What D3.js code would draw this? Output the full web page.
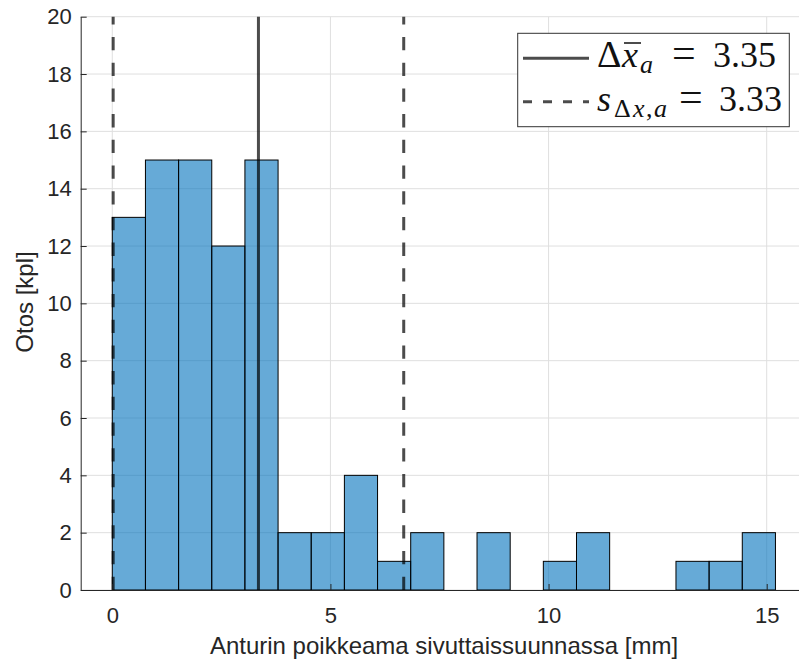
<!DOCTYPE html>
<html>
<head>
<meta charset="utf-8">
<script src="https://cdn.jsdelivr.net/npm/d3@7"></script>
<style>
  html, body { margin: 0; padding: 0; background: #fff; }
  svg { display: block; }
</style>
</head>
<body>
<svg id="chart" width="799" height="664"></svg>
<script>
// Histogram of lateral sensor offset samples
const binEdges = [0, 0.76, 1.52, 2.28, 3.04, 3.80, 4.56, 5.32, 6.08, 6.84, 7.60,
                  8.36, 9.12, 9.88, 10.64, 11.40, 12.16, 12.92, 13.68, 14.44, 15.20];
const counts = [13, 15, 15, 12, 15, 2, 2, 4, 1, 2, 0, 2, 0, 1, 2, 0, 0, 1, 1, 2];
const meanValue = 3.35;
const stdValue = 3.33;
const xTicks = [0, 5, 10, 15];
const yTicks = [0, 2, 4, 6, 8, 10, 12, 14, 16, 18, 20];
const xLabel = "Anturin poikkeama sivuttaissuunnassa [mm]";
const yLabel = "Otos [kpl]";

const svg = d3.select("#chart");
const sansFont = "'Liberation Sans', Arial, Helvetica, sans-serif";
const serifFont = "'Liberation Serif', 'Times New Roman', serif";
const axisColor = "#262626";

const x = d3.scaleLinear().domain([-0.724, 15.96]).range([80.7, 808.6]);
const y = d3.scaleLinear().domain([0, 20]).range([590, 16.7]);

// grid
const grid = svg.append("g").attr("stroke", "#dfdfdf").attr("stroke-width", 1);
grid.selectAll("line.v").data(xTicks).join("line")
  .attr("x1", d => x(d)).attr("x2", d => x(d))
  .attr("y1", y(0)).attr("y2", y(20));
grid.selectAll("line.h").data(yTicks).join("line")
  .attr("x1", x.range()[0]).attr("x2", x.range()[1])
  .attr("y1", d => y(d)).attr("y2", d => y(d));

// bars
const bins = counts.map((c, i) => ({ x0: binEdges[i], x1: binEdges[i + 1], n: c }))
  .filter(b => b.n > 0);
svg.append("g").selectAll("rect").data(bins).join("rect")
  .attr("x", d => x(d.x0))
  .attr("width", d => x(d.x1) - x(d.x0))
  .attr("y", d => y(d.n))
  .attr("height", d => y(0) - y(d.n))
  .attr("fill", "#0072BD")
  .attr("fill-opacity", 0.6)
  .attr("stroke", "#000")
  .attr("stroke-width", 1);

// mean and mean ± std markers
const vlines = [
  { v: meanValue, dash: null },
  { v: meanValue - stdValue, dash: "13.3,12.4" },
  { v: meanValue + stdValue, dash: "13.3,12.4" }
];
svg.append("g").selectAll("line").data(vlines).join("line")
  .attr("x1", d => x(d.v)).attr("x2", d => x(d.v))
  .attr("y1", y(0)).attr("y2", y(20))
  .attr("stroke", "#000")
  .attr("stroke-opacity", 0.7)
  .attr("stroke-width", 3)
  .attr("stroke-dasharray", d => d.dash);

// axes
const yAxis = svg.append("g")
  .attr("transform", `translate(${x.range()[0]},0)`)
  .call(d3.axisLeft(y).tickValues(yTicks).tickSize(-6).tickSizeOuter(0).tickPadding(9));
const xAxis = svg.append("g")
  .attr("transform", `translate(0,${y(0)})`)
  .call(d3.axisBottom(x).tickValues(xTicks).tickSize(-6).tickSizeOuter(0).tickPadding(17));
[yAxis, xAxis].forEach(g => {
  g.select(".domain").attr("stroke", axisColor);
  g.selectAll(".tick line").attr("stroke", axisColor);
  g.selectAll(".tick text").attr("fill", axisColor)
    .style("font-family", sansFont).style("font-size", "22px");
});

// axis titles
svg.append("text")
  .attr("x", 444).attr("y", 654)
  .attr("text-anchor", "middle")
  .attr("fill", axisColor)
  .style("font-family", sansFont).style("font-size", "24px")
  .text(xLabel);
svg.append("text")
  .attr("transform", "translate(33,302) rotate(-90)")
  .attr("text-anchor", "middle")
  .attr("fill", axisColor)
  .style("font-family", sansFont).style("font-size", "24px")
  .text(yLabel);

// legend
const legend = svg.append("g");
legend.append("rect")
  .attr("x", 517.7).attr("y", 33.3).attr("width", 271.6).attr("height", 93.4)
  .attr("fill", "#fff").attr("stroke", "#333").attr("stroke-width", 1);
legend.append("line")
  .attr("x1", 523).attr("x2", 589).attr("y1", 58.3).attr("y2", 58.3)
  .attr("stroke", "#000").attr("stroke-opacity", 0.7).attr("stroke-width", 3);
legend.append("line")
  .attr("x1", 523).attr("x2", 589).attr("y1", 101.7).attr("y2", 101.7)
  .attr("stroke", "#000").attr("stroke-opacity", 0.7).attr("stroke-width", 3)
  .attr("stroke-dasharray", "9,11");

const meanText = legend.append("text")
  .attr("fill", "#111").style("font-family", serifFont).style("font-size", "36px");
meanText.append("tspan").attr("x", 597).attr("y", 67).style("font-size", "38px").text("Δ");
meanText.append("tspan").attr("x", 622).attr("y", 67).style("font-style", "italic").text("x");
meanText.append("tspan").attr("x", 640).attr("y", 73).style("font-style", "italic")
  .style("font-size", "26px").text("a");
meanText.append("tspan").attr("x", 672).attr("y", 67).style("font-size", "42px").text("=");
meanText.append("tspan").attr("x", 713).attr("y", 67).text(meanValue.toFixed(2));
// bar over x
legend.append("line")
  .attr("x1", 624).attr("x2", 641).attr("y1", 43).attr("y2", 43)
  .attr("stroke", "#111").attr("stroke-width", 1.5);

const stdText = legend.append("text")
  .attr("fill", "#111").style("font-family", serifFont).style("font-size", "36px");
stdText.append("tspan").attr("x", 597).attr("y", 111).style("font-style", "italic").text("s");
stdText.append("tspan").attr("x", 614).attr("y", 117).style("font-size", "26px").text("Δ");
stdText.append("tspan").attr("x", 633).attr("y", 117).style("font-size", "26px")
  .style("font-style", "italic").text("x");
stdText.append("tspan").attr("x", 646).attr("y", 117).style("font-size", "26px").text(",");
stdText.append("tspan").attr("x", 654).attr("y", 117).style("font-size", "26px")
  .style("font-style", "italic").text("a");
stdText.append("tspan").attr("x", 679).attr("y", 111).style("font-size", "42px").text("=");
stdText.append("tspan").attr("x", 719).attr("y", 111).text(stdValue.toFixed(2));
</script>
</body>
</html>
